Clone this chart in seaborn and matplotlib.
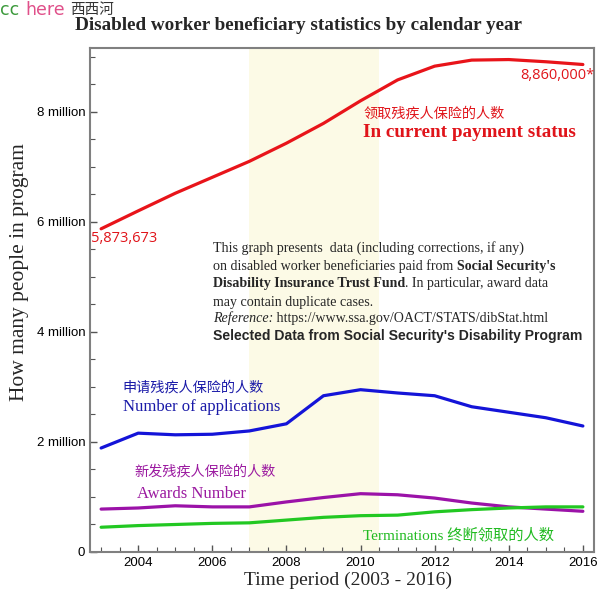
import pandas as pd
import matplotlib
matplotlib.use("Agg")
import matplotlib.pyplot as plt
import seaborn as sns
from matplotlib.ticker import MultipleLocator, FuncFormatter

# data (millions)
years = list(range(2003, 2017))
current_payment = [5.874, 6.20, 6.52, 6.81, 7.10, 7.43, 7.79, 8.20, 8.58, 8.83, 8.94, 8.95, 8.91, 8.86]
applications = [1.89, 2.16, 2.13, 2.14, 2.20, 2.33, 2.84, 2.95, 2.89, 2.84, 2.64, 2.54, 2.44, 2.29]
awards = [0.78, 0.80, 0.84, 0.82, 0.82, 0.91, 0.99, 1.06, 1.04, 0.98, 0.89, 0.82, 0.78, 0.74]
terminations = [0.45, 0.48, 0.50, 0.52, 0.53, 0.58, 0.63, 0.66, 0.67, 0.73, 0.77, 0.80, 0.82, 0.82]
series_names = ["current", "applications", "awards", "terminations"]
series_colors = ["#e8141a", "#1414d8", "#9b12a8", "#22c822"]
shade_span = (2007, 2010.5)

df = pd.concat([
    pd.DataFrame({"year": years, "value": v, "series": n})
    for n, v in zip(series_names, [current_payment, applications, awards, terminations])
])

sns.set_style("ticks")
plt.rcParams["font.family"] = ["Liberation Sans", "Noto Sans CJK SC"]

fig = plt.figure(figsize=(6, 6), dpi=100)
ax = fig.add_axes([0.15, 0.08, 0.84, 0.84])

ax.axvspan(*shade_span, color="#fcfae6", zorder=0, lw=0)
sns.lineplot(data=df, x="year", y="value", hue="series", palette=series_colors,
             hue_order=series_names, linewidth=2.3, legend=False, ax=ax)

ax.set_xlim(2002.7, 2016.3)
ax.set_ylim(0, 9.16)
ax.xaxis.set_major_locator(MultipleLocator(2))
ax.xaxis.set_minor_locator(MultipleLocator(0.5))
ax.yaxis.set_major_locator(MultipleLocator(2))
ax.yaxis.set_minor_locator(MultipleLocator(0.5))
ax.yaxis.set_major_formatter(FuncFormatter(lambda v, p: "0" if v == 0 else f"{int(v)} million"))
ax.tick_params(which="both", direction="in", labelsize=9.5, top=False, right=False, colors="#555555",
               labelcolor="black")
ax.tick_params(which="major", length=5, width=1)
ax.tick_params(which="minor", length=3.5, width=0.8)
for s in ax.spines.values():
    s.set_color("#808080")
    s.set_linewidth(1.5)

serif = ["Liberation Serif", "Noto Sans CJK SC"]
cjk = ["Noto Sans CJK SC", "DejaVu Sans"]
ax.set_xlabel("Time period (2003 - 2016)", family=serif, fontsize=14)
ax.set_ylabel("How many people in program", family=serif, fontsize=15.5)
ax.xaxis.set_label_coords(0.512, -0.04)
ax.yaxis.set_label_coords(-0.122, 0.556)

fig.suptitle("Disabled worker beneficiary statistics by calendar year", family=serif,
             fontweight="bold", fontsize=13.8, x=0.498, y=0.972)

# watermark
fig.text(0.0, 0.983, "cc", color="#3c9a3c", fontsize=12.5, va="center", family=["DejaVu Sans"])
fig.text(0.042, 0.983, "here", color="#e0508a", fontsize=12.5, va="center", family=["DejaVu Sans"])
fig.text(0.117, 0.983, "西西河", color="#333333", fontsize=10.5, va="center", family=cjk)

# value labels anchored to the red line ends
ax.annotate("5,873,673", (years[0], current_payment[0]), xytext=(-10, -10), textcoords="offset pixels",
            color="#e0141a", fontsize=10.5, family=["Open Sans"], va="center", ha="left")
ax.annotate("8,860,000*", (years[-1], current_payment[-1]), xytext=(11, -11), textcoords="offset pixels",
            color="#e0141a", fontsize=10.5, family=["Open Sans"], va="center", ha="right")

# series captions
ax.text(0.542, 0.869, "领取残疾人保险的人数", color="#e0141a", fontsize=10.2, family=cjk,
        transform=ax.transAxes, va="center")
ax.text(0.542, 0.833, "In current payment status", color="#e0141a", fontsize=13.8, family=serif,
        fontweight="bold", transform=ax.transAxes, va="center")
ax.text(0.065, 0.327, "申请残疾人保险的人数", color="#1a1aa8", fontsize=10.2, family=cjk,
        transform=ax.transAxes, va="center")
ax.text(0.065, 0.288, "Number of applications", color="#1a1aa8", fontsize=12, family=serif,
        transform=ax.transAxes, va="center")
ax.text(0.089, 0.159, "新发残疾人保险的人数", color="#9b1aa0", fontsize=10.2, family=cjk,
        transform=ax.transAxes, va="center")
ax.text(0.093, 0.115, "Awards Number", color="#9b1aa0", fontsize=12, family=serif,
        transform=ax.transAxes, va="center")
ax.text(0.542, 0.034, "Terminations 终断领取的人数", color="#22bb22", fontsize=11, family=serif,
        transform=ax.transAxes, va="center")

# note paragraph with mixed bold runs
renderer = fig.canvas.get_renderer()
note_lines = [
    [("This graph presents  data (including corrections, if any)", "normal", "normal", serif)],
    [("on disabled worker beneficiaries paid from ", "normal", "normal", serif),
     ("Social Security's", "bold", "normal", serif)],
    [("Disability Insurance Trust Fund", "bold", "normal", serif),
     (". In particular, award data", "normal", "normal", serif)],
    [("may contain duplicate cases.", "normal", "normal", serif)],
    [("Reference:", "normal", "italic", serif),
     (" https://www.ssa.gov/OACT/STATS/dibStat.html", "normal", "normal", serif)],
    [("Selected Data from Social Security's Disability Program", "bold", "normal", ["Liberation Sans"])],
]
note_y = [0.603, 0.567, 0.532, 0.496, 0.464, 0.429]
ax_w = ax.get_window_extent(renderer).width
for runs, y in zip(note_lines, note_y):
    x = 0.244
    for txt, weight, style, fam in runs:
        t = ax.text(x, y, txt, fontsize=10.1, family=fam, fontweight=weight, style=style,
                    transform=ax.transAxes, va="center", ha="left")
        x += t.get_window_extent(renderer).width / ax_w

fig.savefig("out.png", dpi=100)
